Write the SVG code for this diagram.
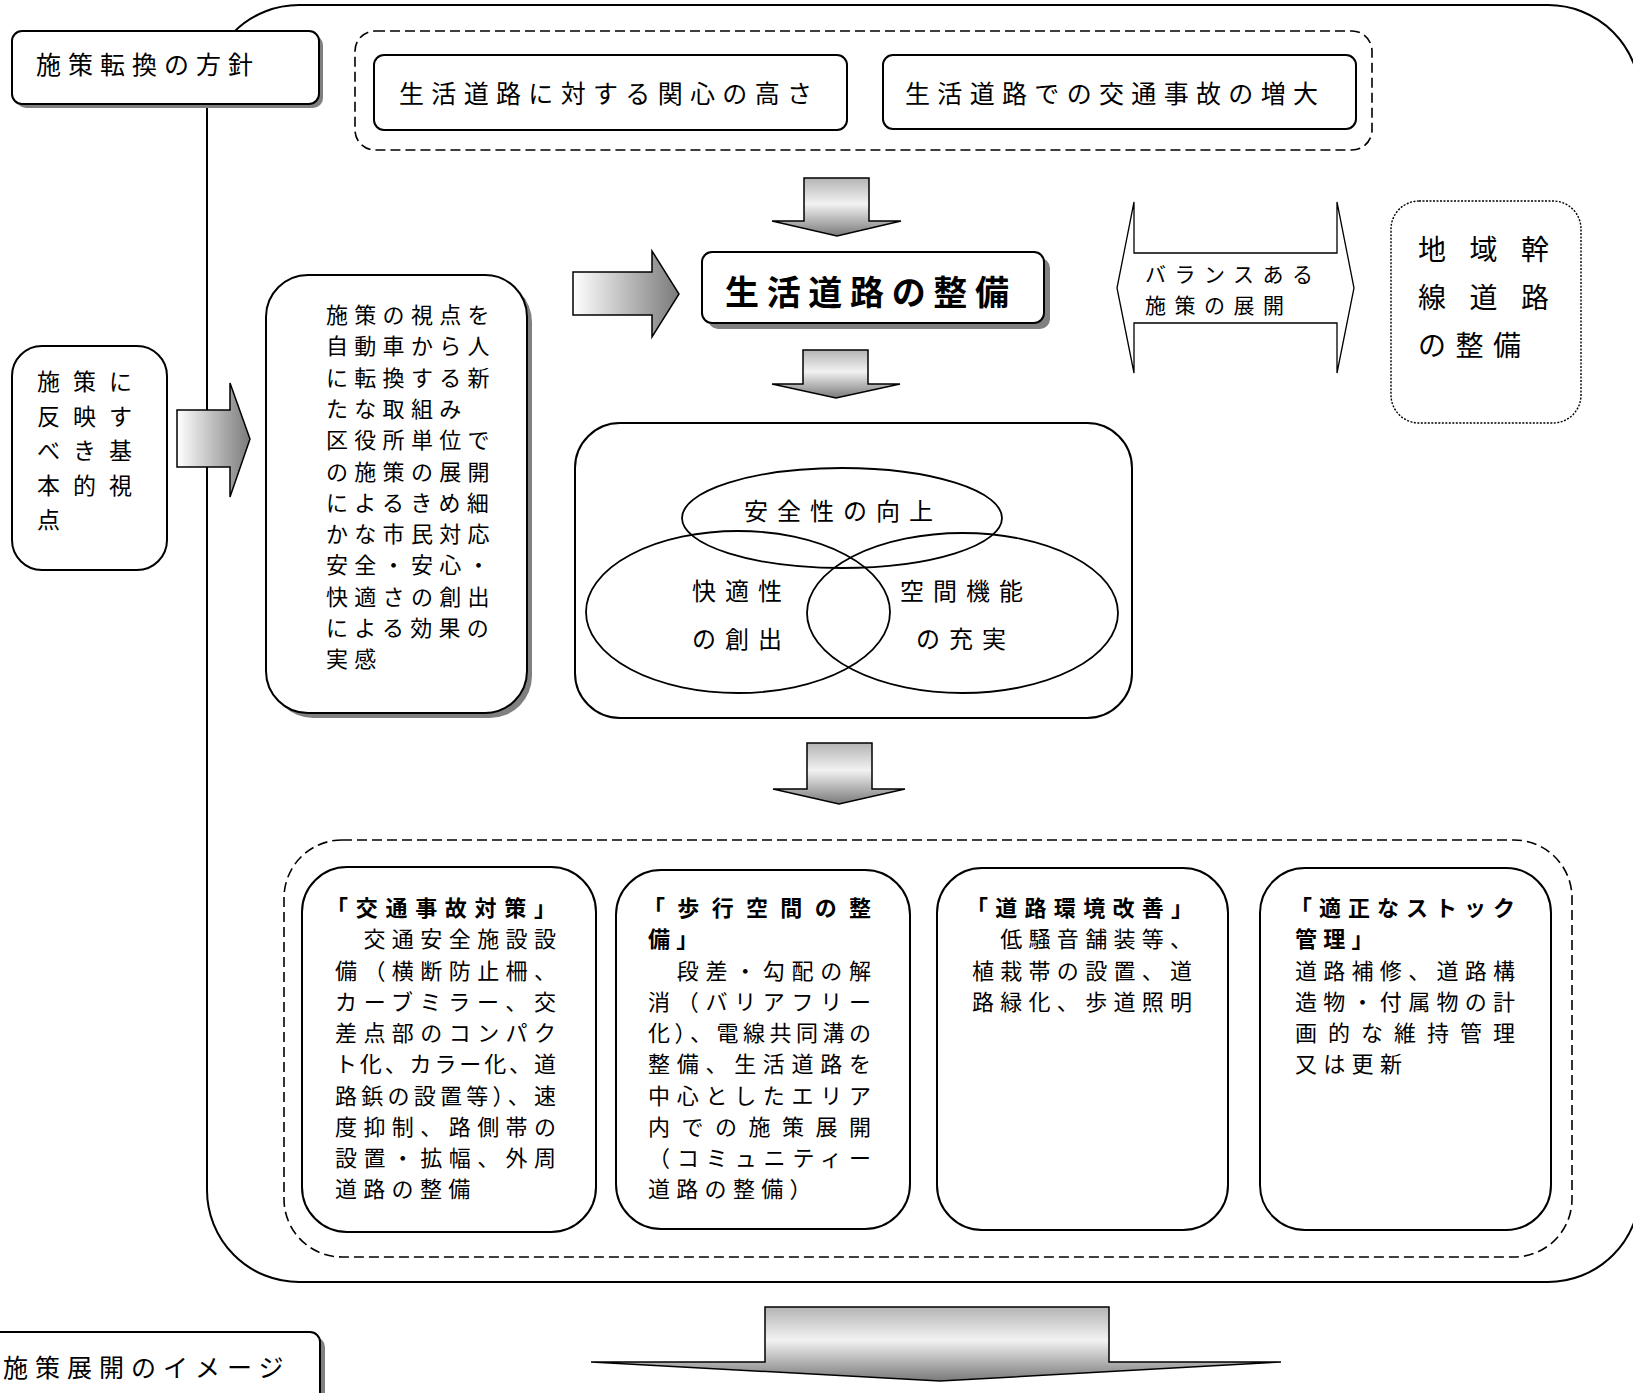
<svg xmlns="http://www.w3.org/2000/svg" width="1633" height="1393" viewBox="0 0 1633 1393">
<defs>
<linearGradient id="gDown" x1="0" y1="0" x2="0" y2="1">
<stop offset="0" stop-color="#b4b4b4"/>
<stop offset="0.45" stop-color="#f2f2f2"/>
<stop offset="1" stop-color="#7a7a7a"/>
</linearGradient>
<linearGradient id="gRight" x1="0" y1="0" x2="1" y2="0">
<stop offset="0" stop-color="#ffffff"/>
<stop offset="1" stop-color="#7a7a7a"/>
</linearGradient>
<style>
.t{font-family:"Noto Sans CJK JP","Noto Sans CJK SC",sans-serif;fill:#000}
.b{font-weight:700}
.box{fill:#fff;stroke:#000;stroke-width:2}
.shd{fill:#808080}
.dash{fill:none;stroke:#000;stroke-width:1.6;stroke-dasharray:10 5}
.dot{fill:#fff;stroke:#000;stroke-width:1.4;stroke-dasharray:2 1.5}
.arr{stroke:#000;stroke-width:1.5;stroke-linejoin:miter}
.ell{fill:none;stroke:#000;stroke-width:1.8}
.f22{font-size:22px;letter-spacing:6.3px}
.f22j{font-size:22px}
.f25{font-size:25px;letter-spacing:7px}
</style>
</defs>
<rect width="1633" height="1393" fill="#fff"/>

<g id="outer-frame">
<rect x="207" y="5" width="1433" height="1277" rx="92" fill="#fff" stroke="#000" stroke-width="2"/>
</g>

<g id="top-dashed-group">
<rect class="dash" x="355" y="31" width="1017" height="119" rx="20"/>
</g>

<g id="node-kanshin">
<rect class="box" x="374" y="55" width="473" height="75" rx="10"/>
<text class="t" x="399" y="103" font-size="25" textLength="413" lengthAdjust="spacing">生活道路に対する関心の高さ</text>
</g>

<g id="node-jiko">
<rect class="box" x="883" y="55" width="473" height="74" rx="10"/>
<text class="t" x="905" y="103" font-size="25" textLength="413" lengthAdjust="spacing">生活道路での交通事故の増大</text>
</g>

<g id="node-tenkan">
<rect class="shd" x="16" y="35" width="307" height="73" rx="10"/>
<rect class="box" x="12" y="31" width="307" height="73" rx="10"/>
<text class="t f25" x="36" y="74">施策転換の方針</text>
</g>

<g id="node-kihon">
<rect class="box" x="12" y="346" width="155" height="224" rx="30"/>
<text class="t" font-size="23" letter-spacing="13">
<tspan x="37" y="390">施策に</tspan>
<tspan x="37" y="424.5">反映す</tspan>
<tspan x="37" y="459">べき基</tspan>
<tspan x="37" y="493.5">本的視</tspan>
<tspan x="37" y="528">点</tspan>
</text>
</g>

<g id="node-shiten">
<rect class="shd" x="271" y="280" width="261" height="438" rx="42"/>
<rect class="box" x="266" y="275" width="261" height="438" rx="42"/>
<text class="t f22" letter-spacing="6.4">
<tspan x="326" y="323">施策の視点を</tspan>
<tspan x="326" y="354.3">自動車から人</tspan>
<tspan x="326" y="385.6">に転換する新</tspan>
<tspan x="326" y="416.9">たな取組み</tspan>
<tspan x="326" y="448.2">区役所単位で</tspan>
<tspan x="326" y="479.5">の施策の展開</tspan>
<tspan x="326" y="510.8">によるきめ細</tspan>
<tspan x="326" y="542.1">かな市民対応</tspan>
<tspan x="326" y="573.4">安全・安心・</tspan>
<tspan x="326" y="604.7">快適さの創出</tspan>
<tspan x="326" y="636">による効果の</tspan>
<tspan x="326" y="667.3">実感</tspan>
</text>
</g>

<g id="node-seikatsu">
<rect class="shd" x="708" y="258" width="342" height="71" rx="10"/>
<rect class="box" x="702" y="252" width="342" height="71" rx="10"/>
<text class="t b" x="725" y="305" font-size="34" textLength="284" lengthAdjust="spacing">生活道路の整備</text>
</g>

<g id="node-chiiki">
<rect class="dot" x="1391" y="201" width="190" height="222" rx="28"/>
<text class="t" font-size="28">
<tspan x="1418" y="260" letter-spacing="23.5">地域幹</tspan>
<tspan x="1418" y="308" letter-spacing="23.5">線道路</tspan>
<tspan x="1418" y="356" letter-spacing="9.5">の整備</tspan>
</text>
</g>

<g id="node-venn">
<rect class="box" x="575" y="423" width="557" height="295" rx="45"/>
<ellipse class="ell" cx="842" cy="518" rx="160" ry="50"/>
<ellipse class="ell" cx="738" cy="612" rx="152" ry="81"/>
<ellipse class="ell" cx="962.5" cy="613" rx="155.5" ry="80"/>
<text class="t" font-size="24" letter-spacing="9">
<tspan x="744" y="520">安全性の向上</tspan>
<tspan x="692" y="600">快適性</tspan>
<tspan x="692" y="648">の創出</tspan>
<tspan x="900" y="600">空間機能</tspan>
<tspan x="916" y="648">の充実</tspan>
</text>
</g>

<g id="bottom-dashed-group">
<rect class="dash" x="284" y="840" width="1288" height="417" rx="58"/>
</g>

<g id="node-koutsu">
<rect class="box" x="302" y="867" width="294" height="365" rx="45"/>
<text class="t b f22j" x="326" y="916" textLength="230" lengthAdjust="spacing">「交通事故対策」</text>
<text class="t f22j" lengthAdjust="spacing">
<tspan x="335" y="947" textLength="221">　交通安全施設設</tspan>
<tspan x="335" y="979" textLength="221">備（横断防止柵、</tspan>
<tspan x="335" y="1010" textLength="221">カーブミラー、交</tspan>
<tspan x="335" y="1041" textLength="221">差点部のコンパク</tspan>
<tspan x="335" y="1072" textLength="221">ト化、カラー化、道</tspan>
<tspan x="335" y="1104" textLength="221">路鋲の設置等）、速</tspan>
<tspan x="335" y="1135" textLength="221">度抑制、路側帯の</tspan>
<tspan x="335" y="1166" textLength="221">設置・拡幅、外周</tspan>
</text>
<text class="t f22" x="335" y="1197">道路の整備</text>
</g>

<g id="node-hokou">
<rect class="box" x="616" y="870" width="294" height="359" rx="45"/>
<text class="t b f22j" x="643" y="916" textLength="228" lengthAdjust="spacing">「歩行空間の整</text>
<text class="t b f22" x="648" y="947">備」</text>
<text class="t f22j" lengthAdjust="spacing">
<tspan x="648" y="979" textLength="223">　段差・勾配の解</tspan>
<tspan x="648" y="1010" textLength="223">消（バリアフリー</tspan>
<tspan x="648" y="1041" textLength="223">化）、電線共同溝の</tspan>
<tspan x="648" y="1072" textLength="223">整備、生活道路を</tspan>
<tspan x="648" y="1104" textLength="223">中心としたエリア</tspan>
<tspan x="648" y="1135" textLength="223">内での施策展開</tspan>
<tspan x="648" y="1166" textLength="223">（コミュニティー</tspan>
</text>
<text class="t f22" x="648" y="1197">道路の整備）</text>
</g>

<g id="node-kankyou">
<rect class="box" x="937" y="868" width="291" height="362" rx="45"/>
<text class="t b f22j" x="966" y="916" textLength="227" lengthAdjust="spacing">「道路環境改善」</text>
<text class="t f22j" lengthAdjust="spacing">
<tspan x="972" y="947" textLength="220">　低騒音舗装等、</tspan>
<tspan x="972" y="979" textLength="220">植栽帯の設置、道</tspan>
<tspan x="972" y="1010" textLength="220">路緑化、歩道照明</tspan>
</text>
</g>

<g id="node-stock">
<rect class="box" x="1260" y="868" width="291" height="362" rx="45"/>
<text class="t b f22j" x="1290" y="916" textLength="225" lengthAdjust="spacing">「適正なストック</text>
<text class="t b f22" x="1295" y="947">管理」</text>
<text class="t f22j" lengthAdjust="spacing">
<tspan x="1295" y="979" textLength="220">道路補修、道路構</tspan>
<tspan x="1295" y="1010" textLength="220">造物・付属物の計</tspan>
<tspan x="1295" y="1041" textLength="220">画的な維持管理</tspan>
</text>
<text class="t f22" x="1295" y="1072">又は更新</text>
</g>

<g id="node-image">
<rect class="shd" x="-15" y="1337" width="340" height="80" rx="10"/>
<rect class="box" x="-20" y="1332" width="340" height="80" rx="10"/>
<text class="t f25" x="3" y="1377">施策展開のイメージ</text>
</g>

<g id="connectors">
<polygon class="arr" fill="url(#gDown)" points="804,178 869,178 869,221 901,221 837,236 772,221 804,221"/>
<polygon class="arr" fill="url(#gDown)" points="803,350 868,350 868,384 900,384 836,398 772,384 803,384"/>
<polygon class="arr" fill="url(#gDown)" points="807,743 872,743 872,789 905,789 839,804 773,789 807,789"/>
<polygon class="arr" fill="url(#gDown)" points="765,1307 1109,1307 1109,1362 1281,1362 940,1381 591,1362 765,1362"/>
<polygon class="arr" fill="url(#gRight)" points="573,272 652,272 652,251 679,294 652,337 652,315 573,315"/>
<polygon class="arr" fill="url(#gRight)" points="177,410 230,410 230,383 250,439 230,497 230,467 177,467"/>
<g id="balance-arrow">
<polygon fill="#fff" stroke="#000" stroke-width="1.3" points="1117,288 1134,202 1134,253 1337,253 1337,202 1354,288 1337,373 1337,323 1134,323 1134,373"/>
<text class="t" font-size="21" letter-spacing="8.5">
<tspan x="1145" y="282">バランスある</tspan>
<tspan x="1145" y="313">施策の展開</tspan>
</text>
</g>
</g>
</svg>
